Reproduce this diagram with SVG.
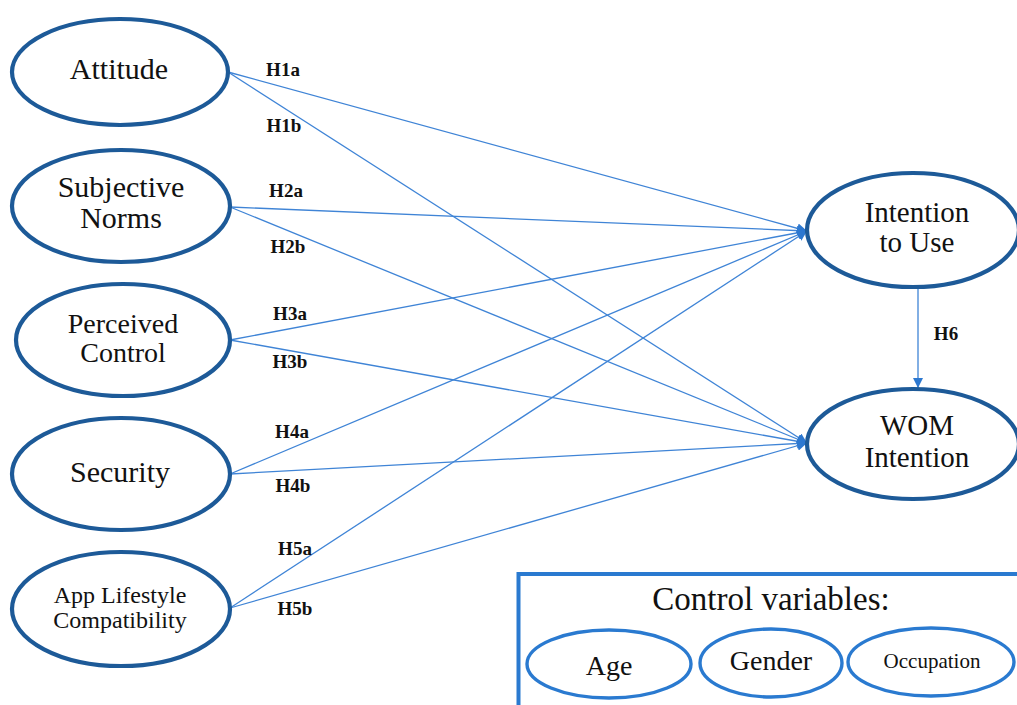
<svg xmlns="http://www.w3.org/2000/svg" width="1017" height="705" viewBox="0 0 1017 705">
<style>
.node{fill:#fff;stroke:#1d5a98;stroke-width:4.2}
.cv{fill:#fff;stroke:#2a7ad0;stroke-width:3.4}
.t{font-family:"Liberation Serif",serif;fill:#111;text-anchor:middle}
.h{font-family:"Liberation Serif",serif;font-weight:bold;font-size:19px;fill:#111;text-anchor:middle}
.c{stroke:#3f84d6;stroke-width:1.3;fill:none}
</style>
<defs>
<marker id="ah" viewBox="0 0 10 10" refX="10" refY="5" markerWidth="10" markerHeight="10" markerUnits="userSpaceOnUse" orient="auto">
<path d="M0,0 L10,5 L0,10 z" fill="#2d78d0"/>
</marker>
</defs>
<rect width="1017" height="705" fill="#fff"/>
<g id="connectors">
<line class="c" x1="228" y1="72" x2="807" y2="231" marker-end="url(#ah)"/>
<line class="c" x1="228" y1="72" x2="807" y2="443" marker-end="url(#ah)"/>
<line class="c" x1="230" y1="207" x2="807" y2="231" marker-end="url(#ah)"/>
<line class="c" x1="230" y1="207" x2="807" y2="443" marker-end="url(#ah)"/>
<line class="c" x1="230" y1="340" x2="807" y2="231" marker-end="url(#ah)"/>
<line class="c" x1="230" y1="340" x2="807" y2="443" marker-end="url(#ah)"/>
<line class="c" x1="230" y1="474" x2="807" y2="231" marker-end="url(#ah)"/>
<line class="c" x1="230" y1="474" x2="807" y2="443" marker-end="url(#ah)"/>
<line class="c" x1="230" y1="608" x2="807" y2="231" marker-end="url(#ah)"/>
<line class="c" x1="230" y1="608" x2="807" y2="443" marker-end="url(#ah)"/>
<line class="c" x1="918" y1="287" x2="918" y2="388" marker-end="url(#ah)"/>
<text class="h" x="283" y="76">H1a</text>
<text class="h" x="284" y="132">H1b</text>
<text class="h" x="286" y="197">H2a</text>
<text class="h" x="288" y="253">H2b</text>
<text class="h" x="290" y="320">H3a</text>
<text class="h" x="290" y="368">H3b</text>
<text class="h" x="292" y="438">H4a</text>
<text class="h" x="293" y="492">H4b</text>
<text class="h" x="295" y="555">H5a</text>
<text class="h" x="295" y="615">H5b</text>
<text class="h" x="946" y="340">H6</text>
</g>
<g id="attitude">
<ellipse class="node" cx="120" cy="72" rx="108" ry="53"/>
<text class="t" x="119" y="79" font-size="30">Attitude</text>
</g>
<g id="subjective-norms">
<ellipse class="node" cx="121" cy="206" rx="109" ry="56"/>
<text class="t" x="121" y="197" font-size="30">Subjective</text>
<text class="t" x="121" y="228" font-size="30">Norms</text>
</g>
<g id="perceived-control">
<ellipse class="node" cx="123" cy="340" rx="107" ry="56"/>
<text class="t" x="123" y="333" font-size="28">Perceived</text>
<text class="t" x="123" y="362" font-size="28">Control</text>
</g>
<g id="security">
<ellipse class="node" cx="121" cy="474" rx="109" ry="56"/>
<text class="t" x="120" y="482" font-size="30">Security</text>
</g>
<g id="app-lifestyle">
<ellipse class="node" cx="121" cy="609" rx="109" ry="57"/>
<text class="t" x="120" y="603" font-size="24">App Lifestyle</text>
<text class="t" x="120" y="628" font-size="24">Compatibility</text>
</g>
<g id="intention-to-use">
<ellipse class="node" cx="913" cy="230" rx="106" ry="57"/>
<text class="t" x="917" y="222" font-size="29">Intention</text>
<text class="t" x="917" y="252" font-size="29">to Use</text>
</g>
<g id="wom-intention">
<ellipse class="node" cx="913" cy="444" rx="106" ry="55"/>
<text class="t" x="917" y="435" font-size="29">WOM</text>
<text class="t" x="917" y="467" font-size="29">Intention</text>
</g>
<g id="control-variables">
<rect x="518.5" y="574" width="520" height="150" fill="none" stroke="#2a7ad0" stroke-width="4"/>
<text class="t" x="771" y="610" font-size="33">Control variables:</text>
</g>
<g id="age">
<ellipse class="cv" cx="609" cy="664" rx="82" ry="34"/>
<text class="t" x="609" y="675" font-size="28">Age</text>
</g>
<g id="gender">
<ellipse class="cv" cx="771" cy="663" rx="71" ry="34"/>
<text class="t" x="771" y="670" font-size="28">Gender</text>
</g>
<g id="occupation">
<ellipse class="cv" cx="931" cy="662" rx="83" ry="34"/>
<text class="t" x="932" y="668" font-size="21">Occupation</text>
</g>
</svg>
